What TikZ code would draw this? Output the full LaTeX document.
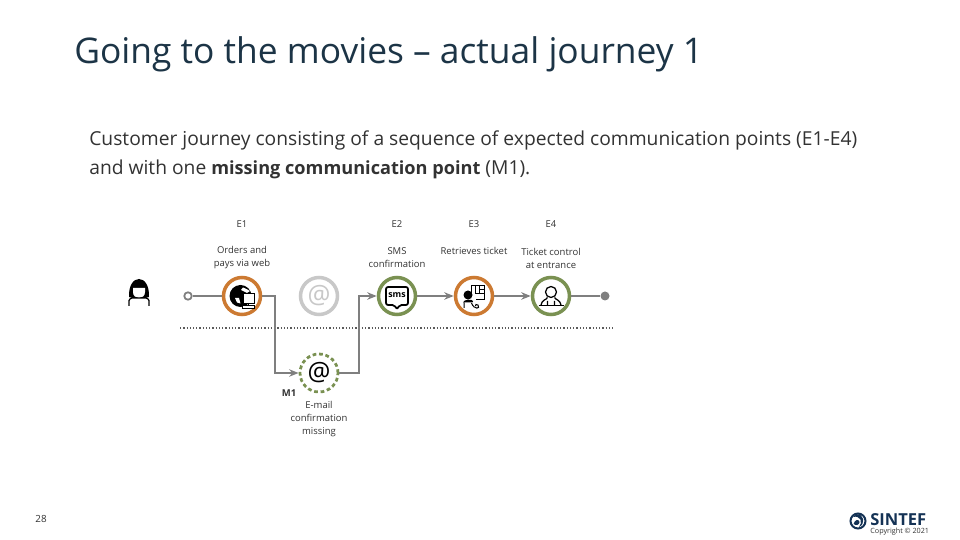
\documentclass[tikz,border=0pt]{standalone}
\usepackage{fontspec}
\usetikzlibrary{arrows.meta}
\setmainfont{Open Sans}
\definecolor{SFTitle}{RGB}{28,52,70}
\definecolor{SFText}{RGB}{50,50,50}
\definecolor{SFDots}{RGB}{90,90,90}
\definecolor{SFLine}{RGB}{127,127,127}
\definecolor{SFOrange}{RGB}{204,122,50}
\definecolor{SFGreen}{RGB}{122,145,82}
\definecolor{SFGrey}{RGB}{200,200,200}
\definecolor{SFNavy}{RGB}{20,50,85}
\tikzset{
  touch/.style={circle,draw=#1,line width=.07cm,fill=white,minimum size=.74cm,inner sep=0pt},
  caption/.style={text=SFText,font=\fontsize{5.4}{7.4}\selectfont,align=center,inner sep=0pt},
  flow/.style={SFLine,line width=.035cm},
  tip/.style={-{Stealth[length=.19cm,width=.15cm]}}
}
\begin{document}
\begin{tikzpicture}[>=stealth]
      \useasboundingbox (0,0) rectangle (19.2,10.8);
      \node[text=SFTitle,font=\fontsize{20.13}{24}\selectfont,anchor=west,inner sep=0pt] (title) at (1.48,9.72) {Going to the movies – actual journey 1};
      \node[text=SFText,font=\fontsize{10.95}{16.5}\selectfont,anchor=north west,align=left,inner sep=0pt] (intro) at (1.78,8.2) {Customer journey consisting of a sequence of expected communication points (E1-E4)\\and with one {\fontsize{10.33}{16.5}\selectfont\bfseries missing communication point} (M1).};

      % journey points
      \node[touch=SFOrange] (e1) at (4.84,4.88) {};
      \node[touch=SFGrey] (skip) at (6.38,4.88) {};
      \node[touch=SFGreen] (e2) at (7.94,4.88) {};
      \node[touch=SFOrange] (e3) at (9.48,4.88) {};
      \node[touch=SFGreen] (e4) at (11.02,4.88) {};
      \node[circle,draw=SFGreen,line width=.055cm,fill=white,minimum size=.76cm,inner sep=0pt,dash pattern=on .075cm off .055cm] (m1) at (6.38,3.34) {};
      \node[circle,draw=SFLine,line width=.035cm,fill=white,minimum size=.15cm,inner sep=0pt] (start) at (3.76,4.88) {};
      \node[circle,fill=SFLine,minimum size=.18cm,inner sep=0pt] (finish) at (12.1,4.88) {};
      \coordinate (dotl) at (3.6,4.24);
      \coordinate (dotr) at (12.3,4.24);
      \draw[SFDots,line width=.022cm,dash pattern=on .025cm off .04cm] (dotl) -- (dotr);

      % connectors
      \draw[flow] (start) -- (e1);
      \draw[flow,tip] (e1) -- (5.5,4.88) |- (m1);
      \draw[flow,tip] (m1) -- (7.18,3.34) |- (e2);
      \draw[flow,tip] (e2) -- (e3);
      \draw[flow,tip] (e3) -- (e4);
      \draw[flow] (e4) -- (finish);

      % labels
      \node[caption] (e1id) at (4.84,6.32) {E1};
      \node[caption] (e2id) at (7.94,6.32) {E2};
      \node[caption] (e3id) at (9.48,6.32) {E3};
      \node[caption] (e4id) at (11.02,6.32) {E4};
      \node[caption] (e1txt) at (4.84,5.64) {Orders and\\pays via web};
      \node[caption] (e2txt) at (7.94,5.64) {SMS\\confirmation};
      \node[caption] (e3txt) at (9.48,5.79) {Retrieves ticket};
      \node[caption] (e4txt) at (11.02,5.64) {Ticket control\\at entrance};
      \node[caption] (m1txt) at (6.38,2.42) {E-mail\\confirmation\\missing};
      \node[caption,font=\fontsize{5.4}{7.4}\selectfont\bfseries] (m1id) at (5.78,2.93) {M1};
      \node[text=SFGrey,font=\fontsize{14.5}{16}\selectfont,inner sep=0pt] (skipat) at (skip) {@};
      \node[text=black,font=\fontsize{14.5}{16}\selectfont,inner sep=0pt] (m1at) at (m1) {@};
      \node[text=SFText,font=\fontsize{5.6}{7}\selectfont,inner sep=0pt] (page) at (.82,.42) {28};

      % customer
      \begin{scope}[shift={(2.78,4.96)}]
        \fill (-.2,-.1) .. controls (-.22,.38) and (.22,.38) .. (.2,-.1) -- (.13,-.12) -- (-.13,-.12) -- cycle;
        \fill[white] (-.12,.08) -- (.12,.08) -- (.12,0) .. controls (.12,-.16) and (-.12,-.16) .. (-.12,0) -- cycle;
        \draw[line width=.025cm] (-.2,-.28) -- (-.2,-.17) .. controls (-.18,-.11) and (-.1,-.11) .. (-.04,-.12) -- (.04,-.12) .. controls (.1,-.11) and (.18,-.11) .. (.2,-.17) -- (.2,-.28);
      \end{scope}

      % web icon
      \begin{scope}[shift={(e1.center)}]
        \fill (-.03,.0) circle (.22);
        \fill[white] (.02,.17) .. controls (.1,.14) and (.12,.12) .. (.16,.1) -- (.1,.06) -- (-.02,.12) -- cycle;
        \fill[white] (-.14,-.04) -- (-.06,-.04) -- (-.03,-.15) -- (-.1,-.13) -- cycle;
        \draw[fill=white,line width=.018cm] (.02,-.14) rectangle (.24,.06);
        \draw[line width=.018cm] (.13,-.14) -- (.13,-.19);
        \draw[fill=white,line width=.018cm] (.01,-.24) rectangle (.25,-.19);
      \end{scope}

      % sms icon
      \begin{scope}[shift={(e2.center)}]
        \draw[line width=.035cm,rounded corners=.04cm,line join=round] (-.22,-.18) -- (-.22,.18) -- (.22,.18) -- (.22,-.18) -- (.05,-.18) -- (0,-.27) -- (-.05,-.18) -- cycle;
        \node[font=\fontsize{5}{6}\selectfont\bfseries,inner sep=0pt] (smstxt) at (0,.01) {sms};
      \end{scope}

      % ticket icon
      \begin{scope}[shift={(e3.center)}]
        \draw[line width=.02cm] (-.06,-.02) -- (-.06,.2) -- (.2,.2) -- (.2,-.08) -- (.04,-.08);
        \draw[line width=.02cm] (.02,.2) -- (.02,.04) -- (.2,.04) (.11,.2) -- (.11,.04) (.11,.12) -- (.2,.12);
        \fill (-.12,.02) circle (.09);
        \fill (-.22,-.13) .. controls (-.2,-.06) and (-.04,-.06) .. (-.02,-.1) -- (-.03,-.13) -- cycle;
        \draw[line width=.02cm] (-.2,-.13) -- (-.2,-.24) (-.05,-.14) .. controls (.0,-.28) and (.14,-.26) .. (.08,-.18) .. controls (.05,-.15) and (.02,-.18) .. (.03,-.2);
      \end{scope}

      % staff icon
      \begin{scope}[shift={(e4.center)}]
        \draw[line width=.025cm] (0,.08) circle (.11);
        \draw[line width=.025cm] (-.2,-.18) .. controls (-.19,-.08) and (-.08,-.07) .. (-.07,-.03) (.2,-.18) .. controls (.19,-.08) and (.08,-.07) .. (.07,-.03) (-.07,-.18) -- (-.07,-.1) (.07,-.18) -- (.07,-.1);
        \draw[line width=.035cm] (-.25,-.19) -- (.25,-.19);
      \end{scope}

      % logo
      \begin{scope}[shift={(17.16,.38)}]
        \draw[SFNavy,line width=.04cm] (0,0) circle (.15);
        \fill[SFNavy] (-.1,.08) .. controls (.06,.12) and (.1,-.04) .. (.02,-.12) .. controls (.16,-.06) and (.12,.16) .. (-.04,.13) -- cycle;
        \fill[SFNavy] (-.09,-.06) .. controls (-.06,.04) and (.02,.04) .. (.03,-.02) .. controls (.03,-.08) and (-.04,-.1) .. (-.09,-.06) -- cycle;
      \end{scope}
      \node[text=SFNavy,font=\fontsize{9.4}{10}\selectfont\bfseries,anchor=west,inner sep=0pt] (brand) at (17.4,.41) {SINTEF};
      \node[text=SFText,font=\fontsize{4.1}{5}\selectfont,anchor=west,inner sep=0pt] (copy) at (17.4,.17) {Copyright © 2021};
    \end{tikzpicture}
\end{document}
